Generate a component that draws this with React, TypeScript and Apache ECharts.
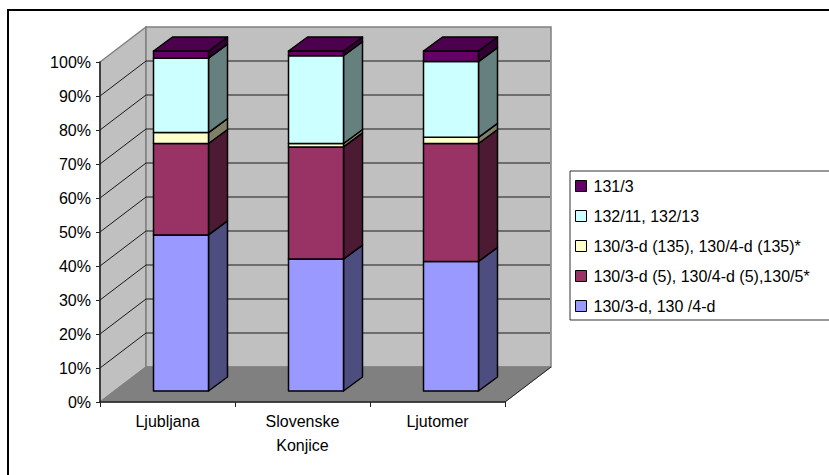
import React, { useEffect, useRef } from "react";
import * as echarts from "echarts";

// Sites along the category axis.
const sites = ["Ljubljana", "Slovenske\nKonjice", "Ljutomer"];

// Share of each type per site, in percent, from the bottom of the stack upward.
const type130 = [45.9, 38.8, 38.1];
const type130v5 = [26.9, 33.0, 34.7];
const type130v135 = [3.2, 1.0, 1.8];
const type132 = [21.9, 25.8, 22.3];
const type131 = [2.1, 1.4, 3.1];

const seriesNames = [
  "130/3-d, 130 /4-d",
  "130/3-d (5), 130/4-d (5),130/5*",
  "130/3-d (135), 130/4-d (135)*",
  "132/11, 132/13",
  "131/3",
];
const seriesValues = [type130, type130v5, type130v135, type132, type131];
const frontColors = ["#9999FF", "#993366", "#FFFFCC", "#CCFFFF", "#660066"];
const sideColors = ["#4D4D80", "#4D1A33", "#808066", "#668080", "#330033"];
const topColor = "#4D004D";

const percentTicks = [0, 10, 20, 30, 40, 50, 60, 70, 80, 90, 100];

// Oblique projection used for the box behind the bars and for the bars themselves.
const WALL_DX = 46;
const WALL_DY = 35;
const BAR_DX = 19;
const BAR_DY = 14;
const BAR_SHIFT_X = 13.5;
const BAR_SHIFT_Y = 11;
const BAR_WIDTH = 55;

const FONT = "'Liberation Sans', Arial, sans-serif";

// Walls, floor and gridlines of the box, projected from the axis scales.
function renderBox(_params: any, api: any) {
  const half = api.size([1, 0])[0] / 2;
  const [x0, yBottom] = api.coord([0, 0]);
  const left = x0 - half;
  const right = api.coord([sites.length - 1, 0])[0] + half;
  const yTop = api.coord([0, 100])[1];
  const wallEdge = { stroke: "#808080", lineWidth: 1.5 };
  const children: any[] = [
    {
      type: "polygon",
      shape: {
        points: [
          [left, yBottom],
          [left + WALL_DX, yBottom - WALL_DY],
          [left + WALL_DX, yTop - WALL_DY],
          [left, yTop],
        ],
      },
      style: { fill: "#C0C0C0", ...wallEdge },
    },
    {
      type: "polygon",
      shape: {
        points: [
          [left + WALL_DX, yBottom - WALL_DY],
          [right + WALL_DX, yBottom - WALL_DY],
          [right + WALL_DX, yTop - WALL_DY],
          [left + WALL_DX, yTop - WALL_DY],
        ],
      },
      style: { fill: "#C0C0C0", ...wallEdge },
    },
    {
      type: "polygon",
      shape: {
        points: [
          [left, yBottom],
          [right, yBottom],
          [right + WALL_DX, yBottom - WALL_DY],
          [left + WALL_DX, yBottom - WALL_DY],
        ],
      },
      style: { fill: "#808080", stroke: "#808080", lineWidth: 1 },
    },
    {
      type: "line",
      shape: { x1: right, y1: yBottom, x2: right + WALL_DX, y2: yBottom - WALL_DY },
      style: { stroke: "#222", lineWidth: 1 },
    },
  ];
  percentTicks.slice(1, -1).forEach((tick) => {
    const y = api.coord([0, tick])[1];
    children.push(
      {
        type: "polyline",
        shape: {
          points: [
            [left, y],
            [left + WALL_DX, y - WALL_DY],
            [right + WALL_DX - 1, y - WALL_DY],
          ],
        },
        style: { fill: "none", stroke: "#1a1a1a", lineWidth: 1 },
      },
    );
  });
  return { type: "group", children };
}

// One stacked segment: front face, side face and, for the last series, the top face.
function makeSegmentRenderer(index: number) {
  return (_params: any, api: any) => {
    const cat = api.value(0);
    const center = api.coord([cat, 0])[0] + BAR_SHIFT_X;
    const x0 = center - BAR_WIDTH / 2;
    const x1 = center + BAR_WIDTH / 2;
    const yLow = api.coord([cat, api.value(1)])[1] - BAR_SHIFT_Y;
    const yHigh = api.coord([cat, api.value(2)])[1] - BAR_SHIFT_Y;
    const edge = { stroke: "#000", lineWidth: 1.5, lineJoin: "round" };
    const children: any[] = [
      {
        type: "polygon",
        shape: {
          points: [
            [x1, yLow],
            [x1 + BAR_DX, yLow - BAR_DY],
            [x1 + BAR_DX, yHigh - BAR_DY],
            [x1, yHigh],
          ],
        },
        style: { fill: sideColors[index], ...edge },
      },
      {
        type: "polygon",
        shape: {
          points: [
            [x0, yLow],
            [x1, yLow],
            [x1, yHigh],
            [x0, yHigh],
          ],
        },
        style: { fill: frontColors[index], ...edge },
      },
    ];
    if (index === seriesValues.length - 1) {
      children.push({
        type: "polygon",
        shape: {
          points: [
            [x0, yHigh],
            [x1, yHigh],
            [x1 + BAR_DX, yHigh - BAR_DY],
            [x0 + BAR_DX, yHigh - BAR_DY],
          ],
        },
        style: { fill: topColor, ...edge },
      });
    }
    return { type: "group", children };
  };
}

// Cumulative [site, from, to] rows for one stacked series.
function stackedRows(index: number) {
  return sites.map((_, cat) => {
    let base = 0;
    for (let i = 0; i < index; i++) base += seriesValues[i][cat];
    return [cat, base, base + seriesValues[index][cat]];
  });
}

export default function App() {
  const ref = useRef<HTMLDivElement>(null);

  useEffect(() => {
    const chart = echarts.init(ref.current!, undefined, { renderer: "svg" });
    chart.setOption({
      animation: false,
      backgroundColor: "#fff",
      textStyle: { fontFamily: FONT },
      grid: { left: 100, top: 62, width: 405, height: 340 },
      xAxis: {
        type: "category",
        data: sites,
        z: 10,
        axisLine: { lineStyle: { color: "#222", width: 1.5 } },
        axisTick: { show: true, interval: 0, alignWithLabel: false, length: 5, lineStyle: { color: "#222", width: 1 } },
        axisLabel: { color: "#000", fontSize: 16, margin: 7, lineHeight: 24, fontFamily: FONT },
        splitLine: { show: false },
      },
      yAxis: {
        type: "value",
        min: 0,
        max: 100,
        interval: 10,
        z: 10,
        axisLine: { show: true, lineStyle: { color: "#222", width: 1.5 } },
        axisTick: { show: true, length: 4, lineStyle: { color: "#222", width: 1 } },
        axisLabel: { color: "#000", fontSize: 16, margin: 9, formatter: "{value}%", fontFamily: FONT },
        splitLine: { show: false },
      },
      legend: {
        orient: "vertical",
        left: 570,
        top: 178,
        padding: [0, 0, 0, 5],
        align: "left",
        icon: "rect",
        itemWidth: 11,
        itemHeight: 11,
        itemGap: 14,
        selectedMode: false,
        data: [...seriesNames].reverse(),
        itemStyle: { borderColor: "#000", borderWidth: 1 },
        textStyle: { color: "#000", fontSize: 16, padding: [0, 0, 0, 2], fontFamily: FONT },
      },
      graphic: [
        {
          type: "polyline",
          shape: { points: [[8, 475], [8, 10], [829, 10]] },
          style: { fill: "none", stroke: "#000", lineWidth: 2 },
        },
        {
          type: "polyline",
          shape: { points: [[829, 171], [570, 171], [570, 320], [829, 320]] },
          style: { fill: "none", stroke: "#333", lineWidth: 1 },
        },
      ],
      series: [
        {
          type: "custom",
          name: "box",
          coordinateSystem: "cartesian2d",
          clip: false,
          silent: true,
          data: [[0, 0]],
          renderItem: renderBox,
        },
        ...seriesNames.map((name, index) => ({
          type: "custom",
          name,
          coordinateSystem: "cartesian2d",
          clip: false,
          itemStyle: { color: frontColors[index] },
          encode: { x: 0, y: [1, 2] },
          data: stackedRows(index),
          renderItem: makeSegmentRenderer(index),
        })),
      ],
    });
    return () => chart.dispose();
  }, []);

  return (
    <div
      ref={ref}
      style={{ position: "absolute", left: 0, top: 0, width: 829, height: 475 }}
    />
  );
}
